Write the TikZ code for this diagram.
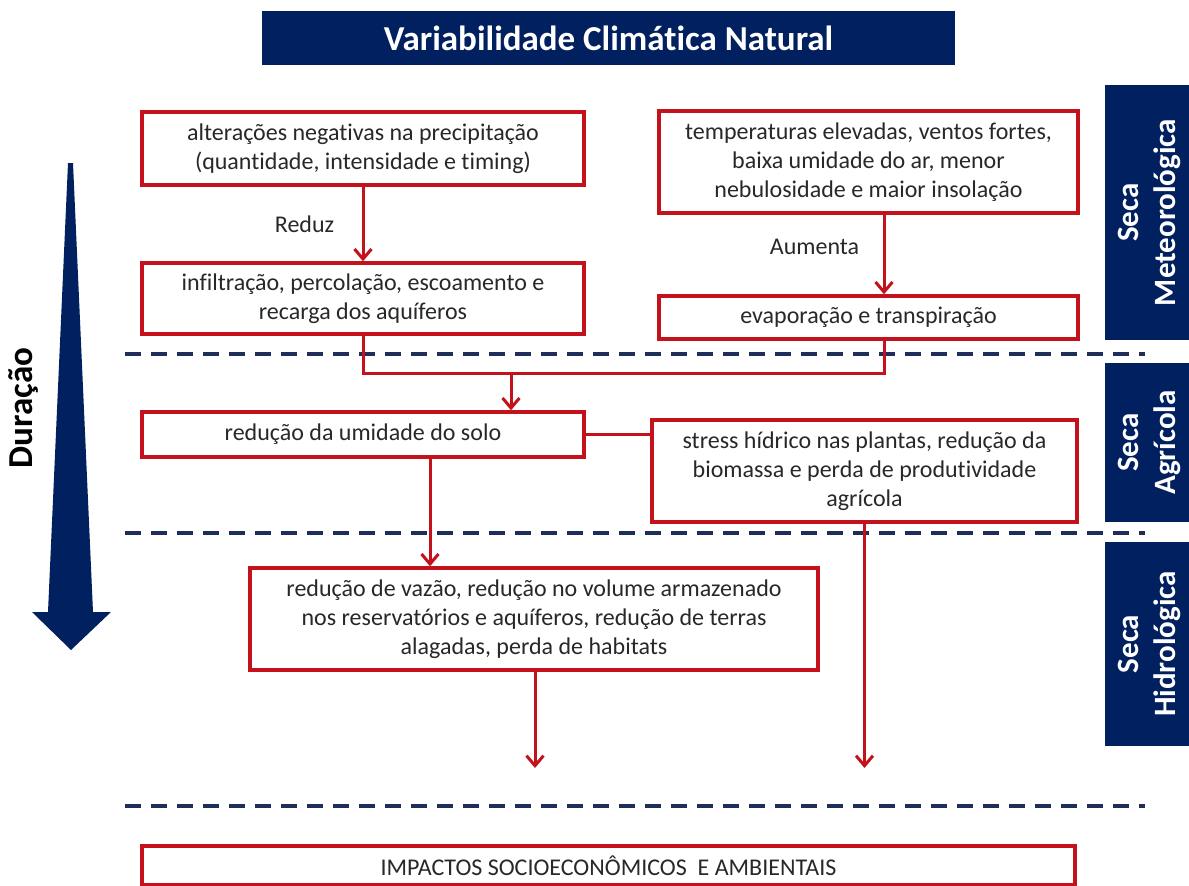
\documentclass[tikz,border=0pt]{standalone}
\usepackage{fontspec}
\setmainfont{Carlito}[Ligatures=NoCommon]
\usepackage{tikz}
\usetikzlibrary{arrows.meta}
\definecolor{vermelho}{RGB}{196,18,28}
\definecolor{azul}{RGB}{0,32,96}
\definecolor{traco}{RGB}{31,45,90}
\definecolor{texto}{RGB}{40,40,40}
\tikzset{
  caixa/.style={draw=vermelho, line width=3.4pt, fill=white, align=center, inner sep=0pt, text=texto, font=\fontsize{24}{29}\selectfont},
  faixa/.style={fill=azul, text=white, align=center, inner sep=0pt},
  seta/.style={draw=vermelho, line width=3pt, -{Straight Barb[length=10pt,width=17pt]}},
  linha/.style={draw=vermelho, line width=3pt},
  tracejado/.style={draw=traco, line width=3.2pt, dash pattern=on 16pt off 10pt},
  rotulo/.style={text=texto, font=\fontsize{24}{29}\selectfont}
}
\newcommand{\caixa}[6]{\node[caixa, minimum width=#4, minimum height=#5] (#1) at (#2,#3) {#6};}
\newcommand{\seca}[4]{\node[faixa, rotate=90, minimum width=#3, minimum height=88, font=\bfseries\fontsize{31}{37}\selectfont] (#1) at (1149,#2) {#4};}

\begin{document}
\begin{tikzpicture}[x=1pt, y=-1pt]
    \useasboundingbox (0,0) rectangle (1189,886);
    % titulo
    \node[faixa, minimum width=693, minimum height=54, font=\bfseries\fontsize{35}{40}\selectfont] (titulo) at (608.5,38) {Variabilidade Climática Natural};
    % faixas laterais
    \seca{meteo}{212.5}{255}{Seca\\Meteorológica}
    \seca{agric}{442.5}{159}{Seca\\Agrícola}
    \seca{hidro}{644}{204}{Seca\\Hidrológica}
    % linhas tracejadas
    \foreach \y in {354,533,806}
        \draw[tracejado] (125,\y) -- (1145,\y);
    % duracao
    \fill[azul] (68,163) -- (73,163) -- (93,612) -- (111,612) -- (71,650) -- (32,612) -- (48,612) -- cycle;
    \node[rotate=90, font=\bfseries\fontsize{35}{40}\selectfont] (duracao) at (24,408) {Duração};
    % seca meteorologica
    \caixa{prec}{363}{148.5}{442}{73}{alterações negativas na precipitação\\(quantidade, intensidade e timing)}
    \caixa{infil}{363}{298.5}{442}{71}{infiltração, percolação, escoamento e\\recarga dos aquíferos}
    \caixa{temp}{868.5}{162}{419}{102}{temperaturas elevadas, ventos fortes,\\baixa umidade do ar, menor\\nebulosidade e maior insolação}
    \caixa{evap}{868.5}{317.5}{419}{43}{evaporação e transpiração}
    % seca agricola
    \caixa{solo}{363}{434.5}{442}{45}{redução da umidade do solo}
    \caixa{stress}{864.5}{471}{425}{102}{stress hídrico nas plantas, redução da\\biomassa e perda de produtividade\\agrícola}
    % seca hidrologica
    \caixa{vazao}{534}{619}{568}{102}{redução de vazão, redução no volume armazenado\\nos reservatórios e aquíferos, redução de terras\\alagadas, perda de habitats}
    % impactos
    \caixa{impactos}{608.5}{865.5}{933}{39}{IMPACTOS SOCIOECONÔMICOS \ E AMBIENTAIS}
    % conectores
    \draw[seta] (prec) -- (infil) node[rotulo, pos=0.5, left=24pt] (reduz) {Reduz};
    \draw[seta] ([xshift=15.5pt]temp.south) -- ([xshift=15.5pt]evap.north) node[rotulo, pos=0.4, left=20pt] (aumenta) {Aumenta};
    \coordinate (juncao) at (511,373);
    \draw[linha] (infil.south) |- (juncao) -| ([xshift=15.5pt]evap.south);
    \draw[seta] (juncao) -- (juncao |- solo.north);
    \draw[linha] (solo.east) -- (stress.west |- solo.east);
    \draw[seta] ([xshift=67pt]solo.south) -- ([xshift=67pt]solo.south |- vazao.north);
    \coordinate (fim) at (535,768);
    \draw[seta] (vazao.south -| fim) -- (fim);
    \draw[seta] (stress.south) -- (stress.south |- fim);
\end{tikzpicture}
\end{document}
